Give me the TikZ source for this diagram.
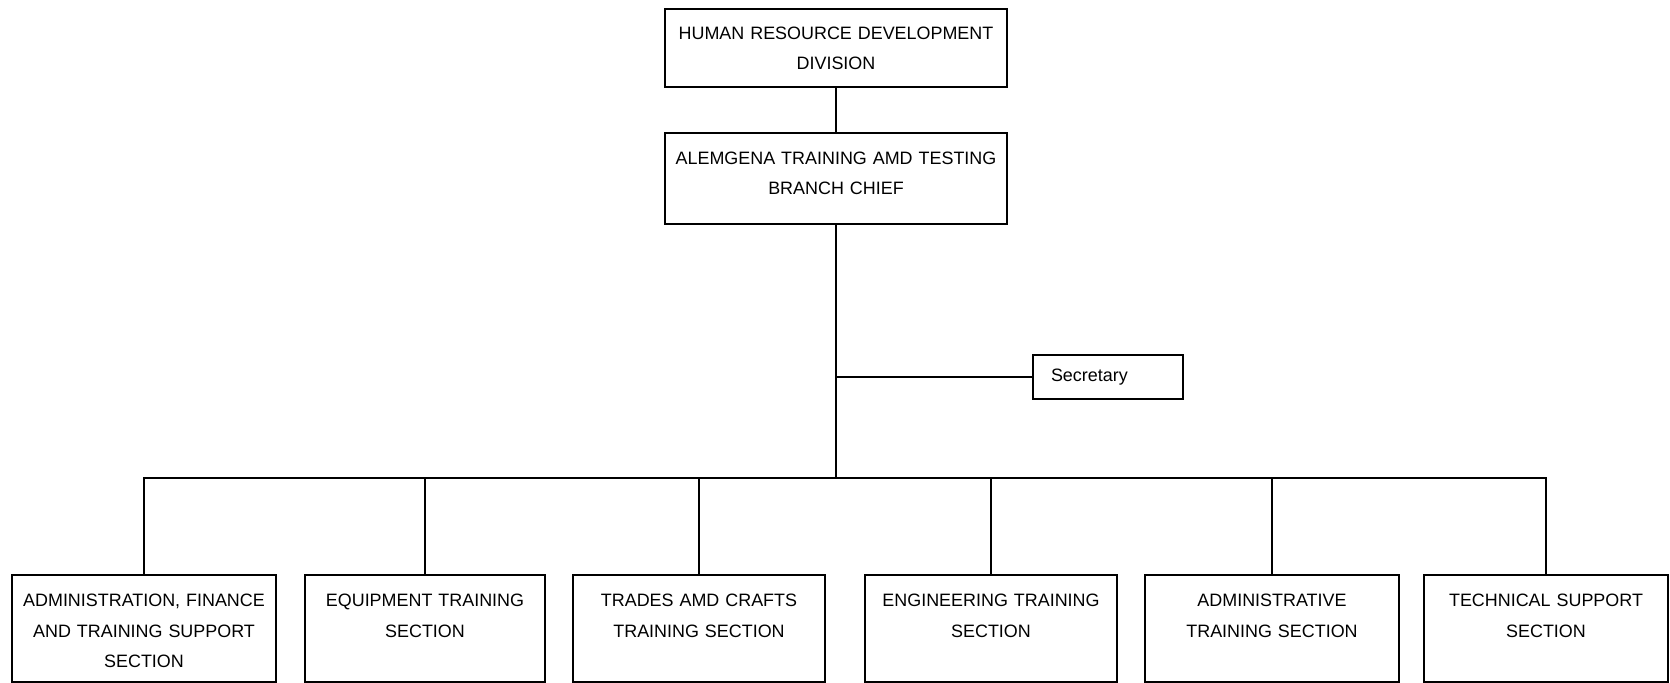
\documentclass[tikz,border=0pt]{standalone}
\usepackage{fontspec}
\setmainfont{Liberation Sans}
\usepackage{tikz}

\begin{document}
\begin{tikzpicture}[line width=0.04cm, orgbox/.style={draw, rectangle, anchor=north, inner xsep=0pt, inner ysep=0pt, align=center, text height=0.64cm, font=\fontsize{10.2}{17.3}\selectfont}]
\useasboundingbox (0,0) rectangle (33.4,13.66);
\node at (16.72,13.5) [orgbox, text width=6.84cm, text height=0.61cm, text depth=0.95cm] (hr division) {HUMAN RESOURCE DEVELOPMENT\\DIVISION};
\node at (16.72,11.02) [orgbox, text width=6.84cm, text height=0.63cm, text depth=1.19cm] (branch chief) {ALEMGENA TRAINING AMD TESTING\\BRANCH CHIEF};
\node at (22.16,6.12) [draw, rectangle, minimum width=3cm, minimum height=0.88cm, text width=2.28cm, inner xsep=0.36cm, align=left, font=\fontsize{10.2}{17.3}\selectfont] (Secretary) {Secretary};
\coordinate (bus) at (16.72,4.1);
\node at (2.88,2.18) [orgbox, text width=5.28cm, text depth=1.5cm] (admin finance) {ADMINISTRATION, FINANCE\\AND TRAINING SUPPORT\\SECTION};
\node at (8.5,2.18) [orgbox, text width=4.8cm, text depth=1.5cm] (equipment training) {EQUIPMENT TRAINING\\SECTION};
\node at (13.98,2.18) [orgbox, text width=5.04cm, text depth=1.5cm] (trades crafts) {TRADES AMD CRAFTS\\TRAINING SECTION};
\node at (19.82,2.18) [orgbox, text width=5.04cm, text depth=1.5cm] (engineering training) {ENGINEERING TRAINING\\SECTION};
\node at (25.44,2.18) [orgbox, text width=5.08cm, text depth=1.5cm] (admin training) {ADMINISTRATIVE\\TRAINING SECTION};
\node at (30.92,2.18) [orgbox, text width=4.88cm, text depth=1.5cm] (technical support) {TECHNICAL SUPPORT\\SECTION};
\draw (hr division) -- (branch chief);
% trunk down from the branch chief, secretary hangs off the side
\draw (branch chief.south) -- (bus);
\draw (Secretary.west) -- (Secretary.west -| bus);
\draw (admin finance.north) |- (bus) -| (technical support.north);
\draw (equipment training.north |- bus) -- (equipment training.north);
\draw (trades crafts.north |- bus) -- (trades crafts.north);
\draw (engineering training.north |- bus) -- (engineering training.north);
\draw (admin training.north |- bus) -- (admin training.north);
\end{tikzpicture}
\end{document}
